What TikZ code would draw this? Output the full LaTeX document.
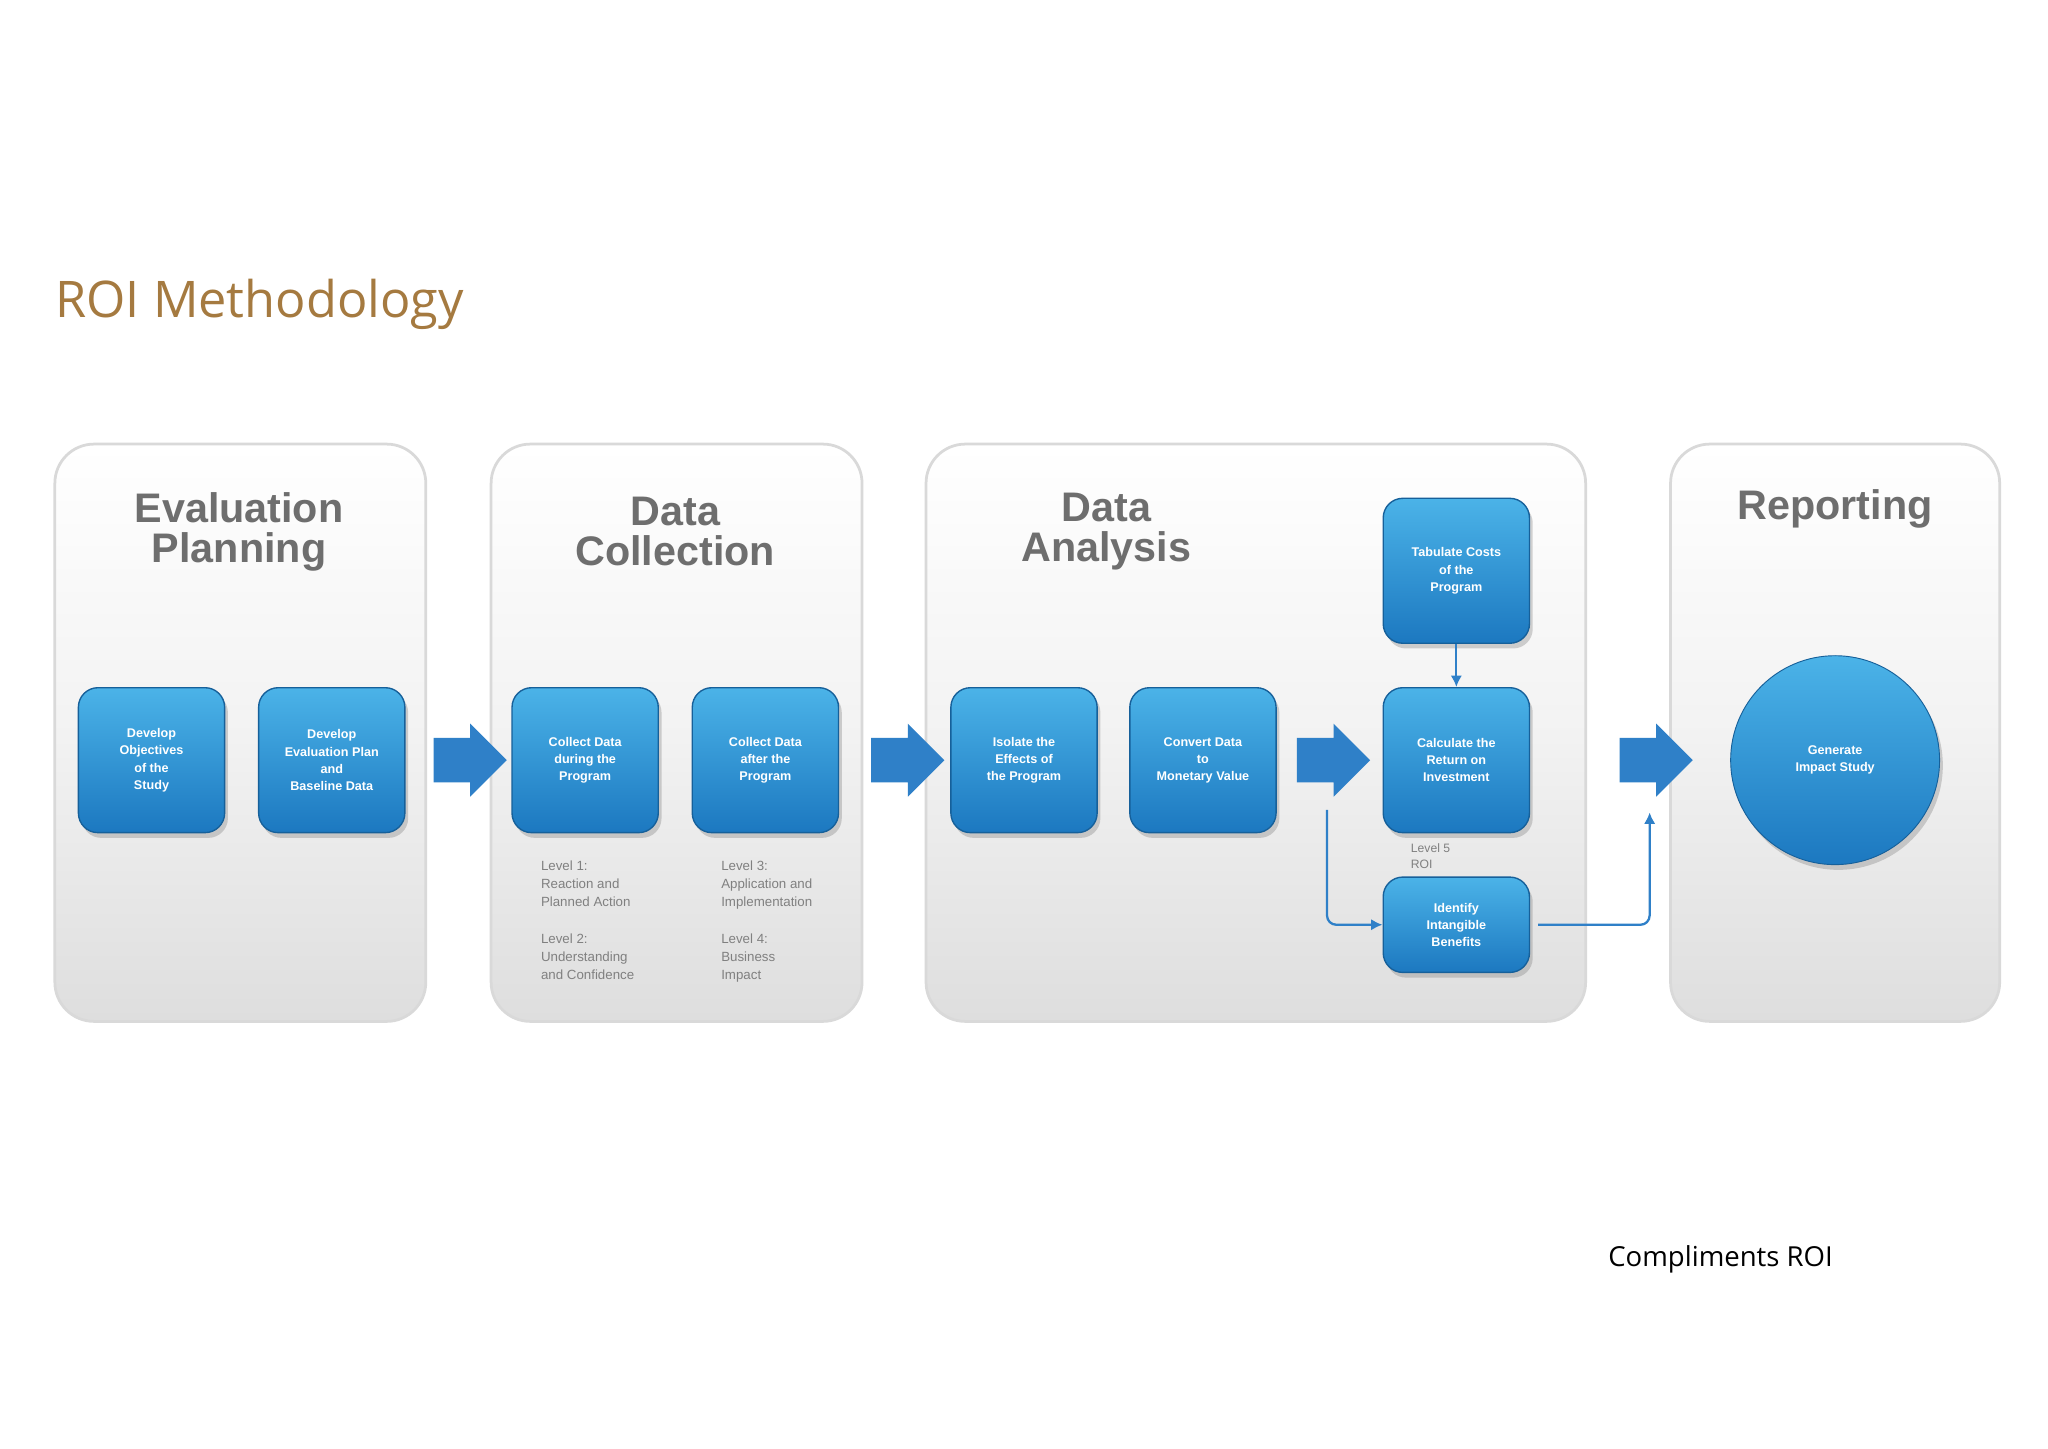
\documentclass[tikz,border=0pt]{standalone}
\usepackage{fontspec}
\setmainfont{Liberation Sans}
\newfontfamily\titlefont{Open Sans}
\usetikzlibrary{arrows.meta,shadows}
\definecolor{brn}{HTML}{A57A40}
\definecolor{bluetop}{HTML}{4BB3E8}
\definecolor{bluebot}{HTML}{1C78C0}
\definecolor{bline}{HTML}{2F80C8}
\definecolor{ptitle}{HTML}{6E6E6E}
\begin{document}
\begin{tikzpicture}[x=0.02cm,y=-0.02cm,
  panel/.style={draw=black!15,line width=1.2pt,rounded corners=0.6cm,top color=white,bottom color=black!13,middle color=black!5},
  ptxt/.style={font=\bfseries\fontsize{18}{17.5}\selectfont,text=ptitle,align=center},
  bbox/.style={rounded corners=0.3cm,top color=bluetop,bottom color=bluebot,draw=bluebot!80!black,line width=0.6pt,
    minimum width=2.24cm,minimum height=2.22cm,align=center,text=white,font=\bfseries\fontsize{5.5}{7.5}\selectfont,
    drop shadow={opacity=0.35,shadow xshift=0.05cm,shadow yshift=-0.08cm}},
  small/.style={font=\fontsize{5.8}{7.8}\selectfont,text=black!50,align=left,anchor=north west},
  bigarrow/.style={fill=bline,draw=none},
  thin/.style={draw=bline,line width=1pt,-{Latex[length=5pt,width=5pt]}}]
\useasboundingbox (0,0) rectangle (1568,1109);
\fill[white] (0,0) rectangle (1568,1109);
\node[anchor=base west,text=brn,font=\titlefont\fontsize{22}{24}\selectfont,inner sep=0] (title) at (42,243) {ROI Methodology};
% panels
\draw[panel] (42,340) rectangle (326,782);
\draw[panel] (376,340) rectangle (660,782);
\draw[panel] (709,340) rectangle (1214,782);
\draw[panel] (1279,340) rectangle (1531,782);
\node[ptxt] (t1) at (183,407) {Evaluation\\Planning};
\node[ptxt] (t2) at (517,407) {Data\\Collection};
\node[ptxt] (t3) at (847,407) {Data\\Analysis};
\node[ptxt] (t4) at (1405,390) {Reporting};
% boxes
\node[bbox] (b1) at (116,582) {Develop\\Objectives\\of the\\Study};
\node[bbox] (b2) at (254,582) {Develop\\Evaluation Plan\\and\\Baseline Data};
\node[bbox] (b3) at (448,582) {Collect Data\\during the\\Program};
\node[bbox] (b4) at (586,582) {Collect Data\\after the\\Program};
\node[bbox] (b5) at (784,582) {Isolate the\\Effects of\\the Program};
\node[bbox] (b6) at (921,582) {Convert Data\\to\\Monetary Value};
\node[bbox] (b7) at (1115,582) {Calculate the\\Return on\\Investment};
\node[bbox] (b8) at (1115,437) {Tabulate Costs\\of the\\Program};
\node[bbox,minimum height=1.46cm] (b9) at (1115,708) {Identify\\Intangible\\Benefits};
\node[circle,minimum size=3.2cm,top color=bluetop,bottom color=bluebot,draw=bluebot!80!black,text=white,
  align=center,font=\bfseries\fontsize{5.5}{7.5}\selectfont,
  drop shadow={opacity=0.35,shadow xshift=0.05cm,shadow yshift=-0.08cm}] (c) at (1405,582) {Generate\\Impact Study};
% big arrows
\foreach \x in {332,667,993,1240}{
  \fill[bigarrow] (\x,565) -- (\x+28,565) -- (\x+28,554) -- (\x+56,582) -- (\x+28,610) -- (\x+28,599) -- (\x,599) -- cycle;}
% thin arrows
\draw[thin] (b8) -- (b7);
\coordinate (s1) at (1016,620);
\draw[thin,rounded corners=4pt] (s1) |- (b9.west);
\coordinate (e1) at (1263,622);
\draw[thin,rounded corners=4pt] (b9.east) ++(6,0) -| (e1);
% small texts
\node[small] (l1) at (408,653) {Level 1:\\Reaction and\\Planned Action};
\node[small] (l2) at (408,709) {Level 2:\\Understanding\\and Confidence};
\node[small] (l3) at (546,653) {Level 3:\\Application and\\Implementation};
\node[small] (l4) at (546,709) {Level 4:\\Business\\Impact};
\node[small,font=\fontsize{5.3}{7}\selectfont] (l5) at (1074,640) {Level 5\\ROI};
\node[anchor=base west,font=\titlefont\fontsize{12}{14}\selectfont,inner sep=0] (comp) at (1231,970) {Compliments ROI};
\end{tikzpicture}
\end{document}
